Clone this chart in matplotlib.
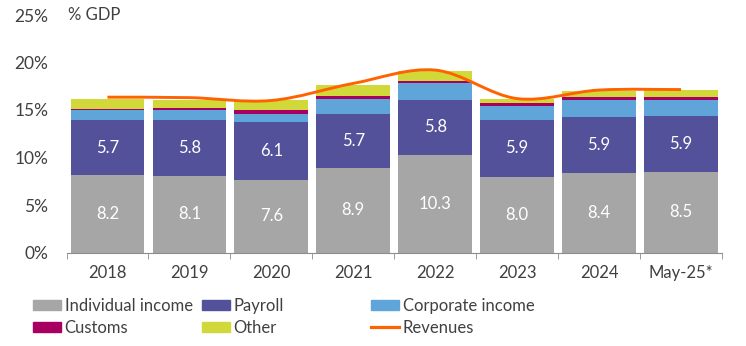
import numpy as np
import matplotlib.pyplot as plt
from matplotlib.path import Path
from matplotlib.patches import Patch, PathPatch
from matplotlib.lines import Line2D
from matplotlib.ticker import FixedLocator

plt.rcParams['font.family'] = ['Lato', 'DejaVu Sans']

years = ['2018', '2019', '2020', '2021', '2022', '2023', '2024', 'May-25*']
individual = [8.2, 8.1, 7.6, 8.9, 10.3, 8.0, 8.4, 8.5]
payroll = [5.7, 5.8, 6.1, 5.7, 5.8, 5.9, 5.9, 5.9]
corporate = [1.05, 1.05, 0.9, 1.6, 1.7, 1.5, 1.8, 1.7]
customs = [0.2, 0.3, 0.35, 0.3, 0.3, 0.3, 0.3, 0.3]
other = [1.05, 0.85, 1.05, 1.1, 1.05, 0.5, 0.65, 0.75]
revenues = [16.35, 16.3, 16.0, 17.8, 19.2, 16.2, 17.1, 17.15]

colors = {
    'Individual income': '#a6a6a6',
    'Payroll': '#525199',
    'Corporate income': '#5fa5d9',
    'Customs': '#a80060',
    'Other': '#d1d93a',
}
rev_color = '#ff6200'
text_color = '#404040'

W, H = 746, 346
fig = plt.figure(figsize=(W / 100, H / 100), dpi=100)
ax = fig.add_axes([66.5 / W, (H - 252.5) / H, (722 - 66.5) / W, (252.5 - 15) / H])

x = np.arange(len(years))
series = [individual, payroll, corporate, customs, other]
bottom = np.zeros(len(years))
for name, vals in zip(colors, series):
    ax.bar(x, vals, 0.9, bottom=bottom, color=colors[name], zorder=2)
    if name in ('Individual income', 'Payroll'):
        for xi, b, v in zip(x, bottom, vals):
            ax.text(xi, b + v / 2, f'{v:.1f}', ha='center', va='center',
                    color='white', fontsize=12, zorder=3)
    bottom += np.array(vals)

# smooth revenue line (cubic bezier through the points)
pts = np.column_stack([x, revenues]).astype(float)
verts = [pts[0]]
codes = [Path.MOVETO]
n = len(pts)
for i in range(n - 1):
    p0 = pts[max(i - 1, 0)]
    p1 = pts[i]
    p2 = pts[i + 1]
    p3 = pts[min(i + 2, n - 1)]
    c1 = p1 + (p2 - p0) / 6
    c2 = p2 - (p3 - p1) / 6
    verts += [c1, c2, p2]
    codes += [Path.CURVE4] * 3
ax.add_patch(PathPatch(Path(verts, codes), fill=False, edgecolor=rev_color,
                       lw=2.1, zorder=4, capstyle='butt'))

ax.set_xlim(-0.5, len(years) - 0.5)
ax.set_ylim(0, 25)
ax.set_yticks([0, 5, 10, 15, 20, 25])
ax.set_yticklabels([f'{v}%' for v in [0, 5, 10, 15, 20, 25]])
ax.set_xticks(x)
ax.set_xticklabels(years)
ax.xaxis.set_minor_locator(FixedLocator(np.arange(-0.5, len(years), 1)))
ax.tick_params(axis='x', which='major', length=0, pad=9, labelsize=12, labelcolor=text_color)
ax.tick_params(axis='x', which='minor', length=4, color='#8c8c8c', direction='out')
ax.tick_params(axis='y', length=0, pad=13, labelsize=12.5, labelcolor=text_color)
for s in ['top', 'right', 'left']:
    ax.spines[s].set_visible(False)
ax.spines['bottom'].set_color('#8c8c8c')
ax.spines['bottom'].set_zorder(5)

fig.text(68 / W, 1 - 15 / H, '% GDP', fontsize=12, color=text_color, va='center', ha='left')

names = list(colors)
cols = [
    [Patch(color=colors[names[0]]), Patch(color=colors[names[3]])],
    [Patch(color=colors[names[1]]), Patch(color=colors[names[4]])],
    [Patch(color=colors[names[2]]), Line2D([], [], color=rev_color, lw=2.3)],
]
labels = [[names[0], names[3]], [names[1], names[4]], [names[2], 'Revenues']]
for xpos, h, l in zip([33, 202, 371], cols, labels):
    fig.legend(h, l, loc='upper left', bbox_to_anchor=(xpos / W, 1 - 298 / H),
               frameon=False, labelcolor=text_color, fontsize=12,
               handlelength=1.7, handleheight=0.6, handletextpad=0.2,
               labelspacing=0.35, borderpad=0, borderaxespad=0)

fig.savefig('out.png', dpi=100)
